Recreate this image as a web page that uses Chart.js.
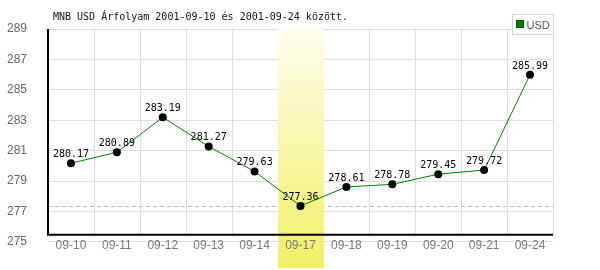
<!DOCTYPE html>
<html>
<head>
<meta charset="utf-8">
<script src="https://cdn.jsdelivr.net/npm/chart.js@4/dist/chart.umd.min.js"></script>
<style>
html,body{margin:0;padding:0;background:#fff;}
#wrap{width:600px;height:270px;}
</style>
</head>
<body>
<div id="wrap"><canvas id="c" width="600" height="270"></canvas></div>
<script>
const categories = ['09-10','09-11','09-12','09-13','09-14','09-17','09-18','09-19','09-20','09-21','09-24'];
const usdValues = [280.17, 280.89, 283.19, 281.27, 279.63, 277.36, 278.61, 278.78, 279.45, 279.72, 285.99];
const yTicks = [275, 277, 279, 281, 283, 285, 287, 289];
const titleText = 'MNB USD Árfolyam 2001-09-10 és 2001-09-24 között.';
const seriesName = 'USD';
const highlightLabel = '09-17';

const MONO = '"DejaVu Sans Mono", monospace';
const SANS = '"Liberation Sans", Arial, sans-serif';

const decor = {
  id: 'decor',
  beforeDatasetsDraw(chart) {
    const {ctx, chartArea: a, scales: {x, y}} = chart;
    const axisY = y.getPixelForValue(yTicks[0]) - 7;
    const step = x.getPixelForValue(1) - x.getPixelForValue(0);
    ctx.save();
    ctx.strokeStyle = '#dddddd';
    ctx.lineWidth = 1;
    for (let i = 1; i <= categories.length; i++) {
      const px = Math.round(x.getPixelForValue(i) - step / 2) + 0.5;
      ctx.beginPath(); ctx.moveTo(px, a.top); ctx.lineTo(px, axisY); ctx.stroke();
    }
    const minV = Math.min(...usdValues);
    const my = Math.round(y.getPixelForValue(minV)) + 0.5;
    ctx.strokeStyle = '#a8cca8';
    ctx.setLineDash([4, 3]);
    ctx.beginPath(); ctx.moveTo(a.left, my); ctx.lineTo(a.right, my); ctx.stroke();
    ctx.setLineDash([]);
    const hi = categories.indexOf(highlightLabel);
    const hx = x.getPixelForValue(hi) - step / 2;
    const bottom = chart.height - 2;
    const g = ctx.createLinearGradient(0, a.top, 0, bottom);
    g.addColorStop(0, '#fdfdee');
    g.addColorStop(1, '#f0f064');
    ctx.fillStyle = g;
    ctx.fillRect(Math.round(hx), a.top, Math.round(step), bottom - a.top);
    ctx.strokeStyle = '#000';
    ctx.lineWidth = 2;
    ctx.beginPath();
    ctx.moveTo(a.left, a.top);
    ctx.lineTo(a.left, axisY);
    ctx.lineTo(a.right, axisY);
    ctx.stroke();
    ctx.restore();
  },
  afterDatasetsDraw(chart) {
    const {ctx, chartArea: a, scales: {x, y}} = chart;
    ctx.save();
    ctx.font = '12px ' + SANS;
    ctx.fillStyle = '#777';
    ctx.textAlign = 'center';
    ctx.textBaseline = 'middle';
    categories.forEach((c, i) => {
      ctx.fillText(c, x.getPixelForValue(i), y.getPixelForValue(yTicks[0]) + 4);
    });
    ctx.font = '10px ' + MONO;
    ctx.fillStyle = '#000';
    ctx.textBaseline = 'alphabetic';
    usdValues.forEach((v, i) => {
      ctx.fillText(v.toFixed(2), x.getPixelForValue(i), y.getPixelForValue(v) - 6);
    });
    ctx.textAlign = 'left';
    ctx.fillStyle = '#111';
    ctx.fillText(titleText, a.left + 5, a.top - 9);
    const lw = 41, lh = 20;
    const lx = a.right - lw + 0.5, ly = a.top - 15 + 0.5;
    ctx.fillStyle = '#fff';
    ctx.fillRect(lx, ly, lw, lh);
    ctx.strokeStyle = '#d4d4d4';
    ctx.lineWidth = 1;
    ctx.strokeRect(lx, ly, lw, lh);
    ctx.fillStyle = '#008000';
    ctx.fillRect(lx + 4, ly + 6, 7, 7);
    ctx.strokeStyle = '#005a00';
    ctx.strokeRect(lx + 4, ly + 6, 7, 7);
    ctx.fillStyle = '#555';
    ctx.font = '11px ' + SANS;
    ctx.fillText(seriesName, lx + 14, ly + 14);
    ctx.restore();
  }
};

new Chart(document.getElementById('c'), {
  type: 'line',
  data: {
    labels: categories,
    datasets: [{
      label: seriesName,
      data: usdValues,
      borderColor: '#008000',
      borderWidth: 1,
      pointBackgroundColor: '#000',
      pointBorderColor: '#000',
      pointRadius: 4,
      pointBorderWidth: 0,
      tension: 0,
      fill: false,
      clip: false
    }]
  },
  options: {
    responsive: false,
    animation: false,
    events: [],
    layout: {padding: {top: 29, right: 47, left: 0, bottom: 25}},
    plugins: {legend: {display: false}, tooltip: {enabled: false}, title: {display: false}},
    scales: {
      x: {
        offset: true,
        grid: {display: false, drawTicks: false},
        border: {display: false},
        ticks: {display: false}
      },
      y: {
        min: 275, max: 289,
        afterBuildTicks(s) { s.ticks = yTicks.map(v => ({value: v})); },
        grid: {color: '#dddddd', drawTicks: false},
        border: {display: false},
        ticks: {color: '#666', font: {family: SANS, size: 12}, padding: 21},
        afterFit(s) { s.width = 48; }
      }
    }
  },
  plugins: [decor]
});
</script>
</body>
</html>
